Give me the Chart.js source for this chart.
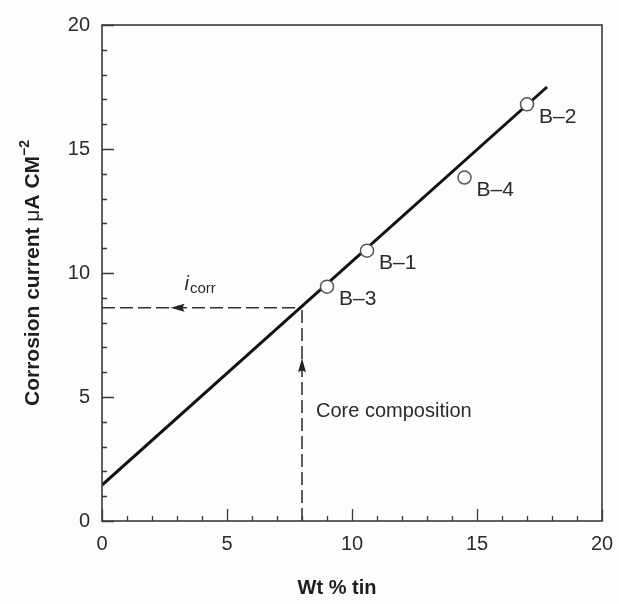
<!DOCTYPE html>
<html>
<head>
<meta charset="utf-8">
<script src="https://cdn.jsdelivr.net/npm/chart.js@4"></script>
<style>
  html, body { margin:0; padding:0; background:#fdfdfd; overflow:hidden; }
  #wrap { width:619px; height:604px; position:relative; }
</style>
</head>
<body>
<div id="wrap"><canvas id="c"></canvas></div>
<script>
// ---- data ----
const sampleLabels = ['B–3', 'B–1', 'B–4', 'B–2'];
const tinPct       = [9.0, 10.6, 14.5, 17.0];
const corrosion    = [9.45, 10.9, 13.85, 16.8];
const fitTin       = [0, 17.8];
const fitCurrent   = [1.45, 17.5];
const coreTin      = 8.0;   // core composition, wt % tin
const coreIcorr    = 8.6;   // resulting corrosion current
const xTicks       = [0, 5, 10, 15, 20];
const yTicks       = [0, 5, 10, 15, 20];
const xTitle = 'Wt % tin';
const coreText = 'Core composition';

const FONT = '"Liberation Sans", Arial, Helvetica, sans-serif';
const INK = '#2b2b2b';

const toPts = (xs, ys) => xs.map((x, i) => ({ x, y: ys[i] }));

const overlay = {
  id: 'overlay',
  afterDatasetsDraw(chart) {
    const ctx = chart.ctx;
    const xs = chart.scales.x, ys = chart.scales.y;
    const a = chart.chartArea;
    ctx.save();
    // frame
    ctx.strokeStyle = '#3a3a3a';
    ctx.lineWidth = 1.6;
    ctx.strokeRect(a.left, a.top, a.right - a.left, a.bottom - a.top);
    // inward ticks
    ctx.lineWidth = 1.3;
    ctx.beginPath();
    xs.ticks.forEach(t => {
      const px = Math.round(xs.getPixelForValue(t.value)) + 0.5;
      const len = xTicks.includes(t.value) ? 12 : 5;
      ctx.moveTo(px, a.bottom); ctx.lineTo(px, a.bottom - len);
    });
    ys.ticks.forEach(t => {
      const py = Math.round(ys.getPixelForValue(t.value)) + 0.5;
      const len = yTicks.includes(t.value) ? 12 : 5;
      ctx.moveTo(a.left, py); ctx.lineTo(a.left + len, py);
    });
    ctx.stroke();

    // arrows on the dashed guide lines
    ctx.fillStyle = '#222';
    const hx = xs.getPixelForValue(3.1), hy = ys.getPixelForValue(coreIcorr);
    ctx.beginPath();
    ctx.moveTo(hx - 9, hy); ctx.lineTo(hx + 5, hy - 4); ctx.lineTo(hx + 3, hy); ctx.lineTo(hx + 5, hy + 4);
    ctx.closePath(); ctx.fill();
    const vx = xs.getPixelForValue(coreTin), vy = ys.getPixelForValue(6.2);
    ctx.beginPath();
    ctx.moveTo(vx, vy - 9); ctx.lineTo(vx - 4, vy + 5); ctx.lineTo(vx, vy + 3); ctx.lineTo(vx + 4, vy + 5);
    ctx.closePath(); ctx.fill();

    // sample labels
    ctx.fillStyle = INK;
    ctx.font = '21px ' + FONT;
    ctx.textBaseline = 'middle';
    ctx.textAlign = 'left';
    sampleLabels.forEach((s, i) => {
      const px = xs.getPixelForValue(tinPct[i]);
      const py = ys.getPixelForValue(corrosion[i]);
      ctx.fillText(s, px + 12, py + 13);
    });

    // core composition text
    ctx.font = '20px ' + FONT;
    ctx.fillText(coreText, xs.getPixelForValue(coreTin) + 14, ys.getPixelForValue(4.4));

    // i_corr
    const ix = xs.getPixelForValue(3.3), iy = ys.getPixelForValue(coreIcorr) - 18;
    ctx.textBaseline = 'alphabetic';
    ctx.font = 'italic 20px ' + FONT;
    ctx.fillText('i', ix, iy);
    const iw = ctx.measureText('i').width;
    ctx.font = '15px ' + FONT;
    ctx.fillText('corr', ix + iw + 1, iy + 3);

    // x title
    ctx.font = 'bold 20px ' + FONT;
    ctx.textAlign = 'center';
    ctx.textBaseline = 'middle';
    ctx.fillStyle = '#1e1e1e';
    ctx.fillText(xTitle, 337, 588);

    // y title (rotated), with mu and superscript
    const parts = [
      { t: 'Corrosion current ', f: 'bold 21px ' + FONT, dy: 0 },
      { t: 'μ', f: '21px ' + FONT, dy: 0 },
      { t: 'A CM', f: 'bold 21px ' + FONT, dy: 0 },
      { t: '−2', f: 'bold 14px ' + FONT, dy: -8 }
    ];
    let total = 0;
    parts.forEach(p => { ctx.font = p.f; p.w = ctx.measureText(p.t).width; total += p.w; });
    ctx.translate(33, 273);
    ctx.rotate(-Math.PI / 2);
    ctx.textAlign = 'left';
    let cx = -total / 2;
    parts.forEach(p => { ctx.font = p.f; ctx.fillText(p.t, cx, p.dy); cx += p.w; });
    ctx.restore();
  }
};

new Chart(document.getElementById('c'), {
  type: 'scatter',
  data: {
    datasets: [
      {
        label: 'Samples',
        data: toPts(tinPct, corrosion),
        pointRadius: 6.5,
        pointBorderWidth: 1.5,
        pointBorderColor: '#555',
        pointBackgroundColor: '#fff',
        showLine: false,
        order: 0
      },
      {
        label: 'Fit',
        data: toPts(fitTin, fitCurrent),
        showLine: true,
        borderColor: '#111',
        borderWidth: 3,
        pointRadius: 0,
        order: 1
      },
      {
        label: 'icorr guide',
        data: toPts([0, coreTin], [coreIcorr, coreIcorr]),
        showLine: true,
        borderColor: '#333',
        borderWidth: 1.6,
        borderDash: [13, 5],
        pointRadius: 0,
        order: 2
      },
      {
        label: 'core guide',
        data: toPts([coreTin, coreTin], [0, coreIcorr]),
        showLine: true,
        borderColor: '#333',
        borderWidth: 1.6,
        borderDash: [13, 5],
        pointRadius: 0,
        order: 2
      }
    ]
  },
  options: {
    responsive: true,
    maintainAspectRatio: false,
    animation: false,
    layout: { padding: { top: 25, right: 17, left: 0, bottom: 0 } },
    plugins: { legend: { display: false }, tooltip: { enabled: false } },
    scales: {
      x: {
        type: 'linear', min: 0, max: 20,
        grid: { display: false, drawTicks: false },
        border: { display: false },
        ticks: {
          stepSize: 1, autoSkip: false, maxRotation: 0, padding: 11,
          color: INK, font: { family: FONT, size: 20 },
          callback: v => xTicks.includes(v) ? String(v) : ''
        },
        afterFit: s => { s.height = 83; s.paddingLeft = 0; s.paddingRight = 0; }
      },
      y: {
        type: 'linear', min: 0, max: 20,
        grid: { display: false, drawTicks: false },
        border: { display: false },
        ticks: {
          stepSize: 1, autoSkip: false, padding: 12,
          color: INK, font: { family: FONT, size: 20 },
          callback: v => yTicks.includes(v) ? String(v) : ''
        },
        afterFit: s => { s.width = 102; s.paddingTop = 0; s.paddingBottom = 0; }
      }
    }
  },
  plugins: [overlay]
});
</script>
</body>
</html>
